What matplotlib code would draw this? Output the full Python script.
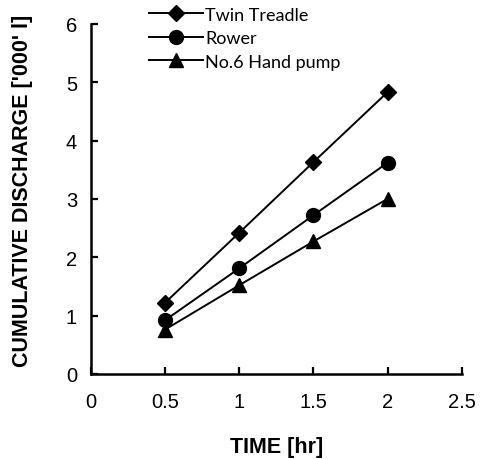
import matplotlib
matplotlib.use("Agg")
import matplotlib.pyplot as plt

# Data
time_hr = [0.5, 1.0, 1.5, 2.0]
twin_treadle = [1.22, 2.42, 3.63, 4.83]
rower = [0.92, 1.81, 2.72, 3.62]
hand_pump = [0.76, 1.52, 2.27, 3.0]

x_ticks = [0, 0.5, 1, 1.5, 2, 2.5]
x_labels = ["0", "0.5", "1", "1.5", "2", "2.5"]
y_ticks = [0, 1, 2, 3, 4, 5, 6]

fig = plt.figure(figsize=(4.81, 4.6), dpi=100)
ax = fig.add_axes([0.189, 0.185, 0.771, 0.761])

ax.plot(time_hr, twin_treadle, color="black", linewidth=1.4,
        marker="D", markersize=8.5, label="Twin Treadle")
ax.plot(time_hr, rower, color="black", linewidth=1.4,
        marker="o", markersize=10, label="Rower")
ax.plot(time_hr, hand_pump, color="black", linewidth=1.4,
        marker="^", markersize=10, label="No.6 Hand pump")

ax.set_xlim(0, 2.5)
ax.set_ylim(0, 6)
ax.set_xticks(x_ticks)
ax.set_xticklabels(x_labels)
ax.set_yticks(y_ticks)

for side in ("top", "right"):
    ax.spines[side].set_visible(False)
for side in ("left", "bottom"):
    ax.spines[side].set_linewidth(1.8)

ax.tick_params(direction="in", length=5, width=1.6, labelsize=14.5)
ax.tick_params(axis="x", pad=13)
ax.tick_params(axis="y", pad=10)
for lab in ax.get_xticklabels() + ax.get_yticklabels():
    lab.set_family("Liberation Sans")

ax.set_xlabel("TIME [hr]", fontsize=15.5, fontweight="bold",
              family="Liberation Sans")
ax.xaxis.set_label_coords(0.5, -0.177)
ax.set_ylabel("CUMULATIVE DISCHARGE ['000' l]", fontsize=15.5,
              fontweight="bold", family="Liberation Sans")
ax.yaxis.set_label_coords(-0.156, 0.526)

leg = ax.legend(loc="upper left", bbox_to_anchor=(0.138, 1.07),
                frameon=False, handlelength=3.0, handletextpad=0.1,
                labelspacing=0.42, borderaxespad=0,
                prop={"family": "Lato", "size": 13})

fig.savefig("out.png", dpi=100)
